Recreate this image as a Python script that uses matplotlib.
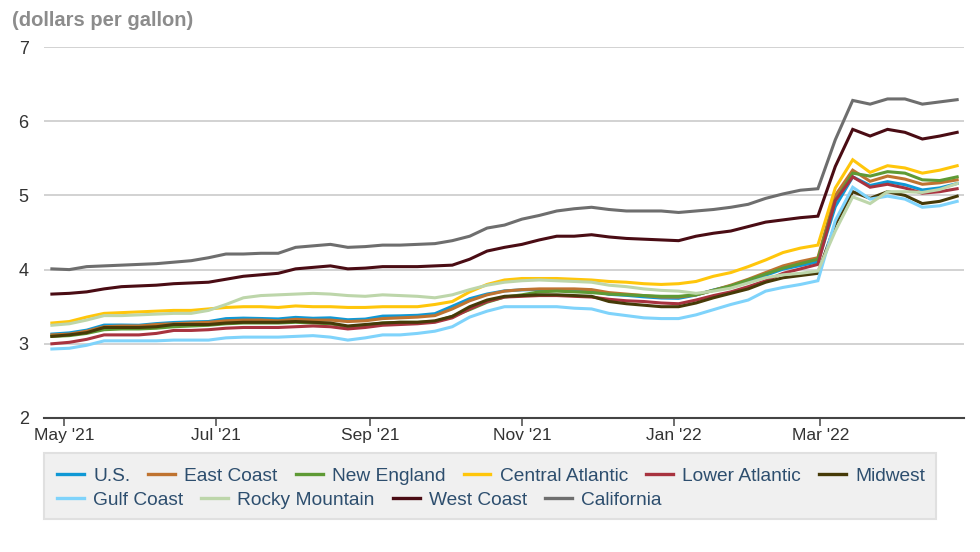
import matplotlib
matplotlib.use("Agg")
import matplotlib.pyplot as plt
import matplotlib.dates as mdates
from matplotlib.lines import Line2D
from matplotlib.patches import Rectangle
import pandas as pd

plt.rcParams['font.family'] = ['Liberation Sans', 'DejaVu Sans']

# weekly prices, Mondays from 2021-04-26 to 2022-04-25
weeks = pd.date_range("2021-04-26", "2022-04-25", freq="W-MON")

us = [3.131, 3.147, 3.184, 3.252, 3.253, 3.250, 3.272, 3.287, 3.295, 3.300,
      3.339, 3.346, 3.341, 3.335, 3.356, 3.344, 3.350, 3.324, 3.333, 3.373,
      3.377, 3.384, 3.406, 3.506, 3.608, 3.671, 3.713, 3.727, 3.731, 3.727,
      3.728, 3.721, 3.667, 3.653, 3.633, 3.617, 3.613, 3.657, 3.725, 3.780,
      3.846, 3.924, 4.006, 4.055, 4.104, 4.849, 5.250, 5.134, 5.185, 5.144,
      5.073, 5.101, 5.160]
east_coast = [3.12, 3.13, 3.17, 3.23, 3.24, 3.24, 3.26, 3.27, 3.28, 3.29,
              3.31, 3.32, 3.32, 3.31, 3.33, 3.32, 3.32, 3.30, 3.31, 3.34,
              3.35, 3.36, 3.38, 3.47, 3.58, 3.66, 3.71, 3.73, 3.74, 3.74,
              3.74, 3.73, 3.69, 3.67, 3.65, 3.63, 3.63, 3.66, 3.72, 3.79,
              3.87, 3.96, 4.05, 4.11, 4.16, 5.00, 5.34, 5.19, 5.26, 5.22,
              5.15, 5.17, 5.21]
new_england = [3.10, 3.11, 3.14, 3.19, 3.20, 3.20, 3.21, 3.23, 3.24, 3.25,
               3.27, 3.28, 3.28, 3.28, 3.29, 3.28, 3.27, 3.23, 3.25, 3.28,
               3.29, 3.29, 3.30, 3.37, 3.46, 3.56, 3.63, 3.66, 3.70, 3.71,
               3.70, 3.69, 3.67, 3.66, 3.65, 3.64, 3.64, 3.66, 3.72, 3.78,
               3.86, 3.94, 4.02, 4.08, 4.14, 4.93, 5.30, 5.26, 5.32, 5.30,
               5.21, 5.20, 5.25]
central_atlantic = [3.28, 3.30, 3.36, 3.41, 3.42, 3.43, 3.44, 3.45, 3.45, 3.47,
                    3.49, 3.50, 3.50, 3.49, 3.51, 3.50, 3.50, 3.49, 3.49, 3.50,
                    3.50, 3.50, 3.53, 3.57, 3.70, 3.80, 3.86, 3.88, 3.88, 3.88,
                    3.87, 3.86, 3.84, 3.83, 3.81, 3.80, 3.81, 3.84, 3.91, 3.96,
                    4.04, 4.13, 4.23, 4.29, 4.33, 5.10, 5.48, 5.31, 5.40, 5.37,
                    5.30, 5.34, 5.40]
lower_atlantic = [3.00, 3.02, 3.06, 3.12, 3.12, 3.12, 3.14, 3.18, 3.18, 3.19,
                  3.21, 3.22, 3.22, 3.22, 3.23, 3.24, 3.23, 3.20, 3.22, 3.25,
                  3.26, 3.27, 3.29, 3.35, 3.47, 3.57, 3.63, 3.64, 3.65, 3.65,
                  3.64, 3.63, 3.60, 3.58, 3.57, 3.55, 3.54, 3.59, 3.65, 3.70,
                  3.77, 3.85, 3.95, 4.01, 4.07, 4.93, 5.25, 5.11, 5.15, 5.10,
                  5.03, 5.05, 5.09]
midwest = [3.10, 3.12, 3.15, 3.22, 3.22, 3.22, 3.23, 3.26, 3.26, 3.26,
           3.28, 3.29, 3.29, 3.29, 3.30, 3.29, 3.28, 3.24, 3.26, 3.28,
           3.29, 3.29, 3.31, 3.37, 3.50, 3.59, 3.64, 3.65, 3.66, 3.66,
           3.65, 3.64, 3.57, 3.54, 3.52, 3.50, 3.50, 3.55, 3.62, 3.68,
           3.74, 3.83, 3.89, 3.92, 3.95, 4.61, 5.05, 4.96, 5.05, 5.00,
           4.89, 4.92, 4.99]
gulf_coast = [2.93, 2.94, 2.98, 3.04, 3.04, 3.04, 3.04, 3.05, 3.05, 3.05,
              3.08, 3.09, 3.09, 3.09, 3.10, 3.11, 3.09, 3.05, 3.08, 3.12,
              3.12, 3.14, 3.17, 3.23, 3.36, 3.44, 3.50, 3.50, 3.50, 3.50,
              3.48, 3.47, 3.41, 3.38, 3.35, 3.34, 3.34, 3.39, 3.46, 3.53,
              3.59, 3.71, 3.76, 3.80, 3.85, 4.66, 5.11, 4.95, 4.99, 4.95,
              4.84, 4.86, 4.92]
rocky_mountain = [3.25, 3.27, 3.32, 3.38, 3.38, 3.39, 3.40, 3.41, 3.41, 3.45,
                  3.53, 3.62, 3.65, 3.66, 3.67, 3.68, 3.67, 3.65, 3.64, 3.66,
                  3.65, 3.64, 3.62, 3.66, 3.73, 3.79, 3.83, 3.85, 3.86, 3.85,
                  3.84, 3.83, 3.79, 3.77, 3.74, 3.72, 3.71, 3.68, 3.71, 3.75,
                  3.82, 3.89, 3.93, 3.95, 3.98, 4.52, 4.98, 4.89, 5.05, 5.05,
                  5.04, 5.08, 5.16]
west_coast = [3.67, 3.68, 3.70, 3.74, 3.77, 3.78, 3.79, 3.81, 3.82, 3.83,
              3.87, 3.91, 3.93, 3.95, 4.01, 4.03, 4.05, 4.01, 4.02, 4.04,
              4.04, 4.04, 4.05, 4.06, 4.14, 4.25, 4.30, 4.34, 4.40, 4.45,
              4.45, 4.47, 4.44, 4.42, 4.41, 4.40, 4.39, 4.45, 4.49, 4.52,
              4.58, 4.64, 4.67, 4.70, 4.72, 5.39, 5.89, 5.80, 5.89, 5.85,
              5.76, 5.80, 5.85]
california = [4.01, 4.00, 4.04, 4.05, 4.06, 4.07, 4.08, 4.10, 4.12, 4.16,
              4.21, 4.21, 4.22, 4.22, 4.30, 4.32, 4.34, 4.30, 4.31, 4.33,
              4.33, 4.34, 4.35, 4.39, 4.45, 4.56, 4.60, 4.68, 4.73, 4.79,
              4.82, 4.84, 4.81, 4.79, 4.79, 4.79, 4.77, 4.79, 4.81, 4.84,
              4.88, 4.96, 5.02, 5.07, 5.09, 5.75, 6.28, 6.23, 6.30, 6.30,
              6.23, 6.26, 6.29]

names = ["U.S.", "East Coast", "New England", "Central Atlantic", "Lower Atlantic",
         "Midwest", "Gulf Coast", "Rocky Mountain", "West Coast", "California"]
series = [us, east_coast, new_england, central_atlantic, lower_atlantic,
          midwest, gulf_coast, rocky_mountain, west_coast, california]
colors = ["#0f98d5", "#bf7330", "#5e9a35", "#ffc60b", "#a8333f",
          "#463a08", "#7fd3fb", "#bdd6aa", "#4a0c14", "#6e6e6e"]

fig = plt.figure(figsize=(9.8, 5.52), dpi=100)
ax = fig.add_axes([44/980, 1-418/552, 920/980, 371/552])

for vals, c, n in zip(series, colors, names):
    ax.plot(weeks, vals, color=c, lw=2.2, label=n, solid_joinstyle='miter')

ax.set_ylim(2, 7)
ax.set_yticks([2, 3, 4, 5, 6, 7])
ax.set_xlim(pd.Timestamp("2021-04-22 20:00"), pd.Timestamp("2022-04-27 18:00"))
ax.xaxis.set_major_locator(mdates.MonthLocator(bymonth=[1, 3, 5, 7, 9, 11]))
ax.xaxis.set_major_formatter(mdates.DateFormatter("%b '%y"))

ax.grid(axis='y', color='#c6c6c6', lw=1.1)
ax.set_axisbelow(True)
for s in ['top', 'right', 'left']:
    ax.spines[s].set_visible(False)
ax.spines['bottom'].set_color('#444444')
ax.spines['bottom'].set_linewidth(1.5)
ax.spines['bottom'].set_zorder(5)
ax.tick_params(axis='y', length=0, pad=11, labelsize=13, labelcolor='#333333')
ax.tick_params(axis='x', length=6, width=1.2, color='#555555', pad=1.5,
               labelsize=12.5, labelcolor='#333333')
ax.set_facecolor('none')

fig.text(12/980, 1-20/552, "(dollars per gallon)", fontsize=14.5, fontweight='bold',
         color='#8c8c8c', va='center', ha='left')

# legend background box
fig.patches.append(Rectangle((44/980, 1-519/552), 892/980, 66/552,
                             transform=fig.transFigure, facecolor='#f0f0f0',
                             edgecolor='#e0e0e0', lw=1.5, zorder=0))

handles = [Line2D([], [], color=c, lw=2.4) for c in colors]
legend_kw = dict(frameon=False, loc='center left', fontsize=13.8, handlelength=1.4,
                 handletextpad=0.48, columnspacing=0.95, borderpad=0,
                 borderaxespad=0, labelcolor='#2d4e6e')
leg1 = fig.legend(handles[:6], names[:6], ncol=6,
                  bbox_to_anchor=(57/980, 1-476/552), **legend_kw)
leg2 = fig.legend(handles[6:], names[6:], ncol=4,
                  bbox_to_anchor=(57/980, 1-500/552), **legend_kw)

fig.savefig("out.png", dpi=100)
